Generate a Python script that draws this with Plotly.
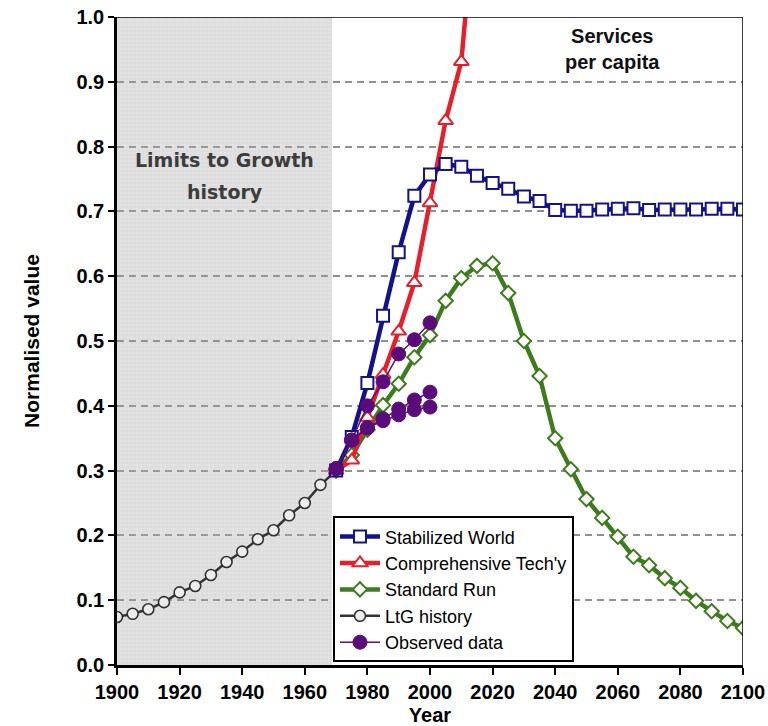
import plotly.graph_objects as go

# ---- data -------------------------------------------------------------
years_hist = [1900, 1905, 1910, 1915, 1920, 1925, 1930, 1935, 1940, 1945,
              1950, 1955, 1960, 1965, 1970]
ltg_history = [0.074, 0.079, 0.086, 0.097, 0.112, 0.122, 0.139, 0.159, 0.175,
               0.194, 0.208, 0.231, 0.250, 0.278, 0.300]

years_run = list(range(1970, 2101, 5))
stabilized_world = [0.300, 0.352, 0.435, 0.539, 0.637, 0.724, 0.757, 0.773,
                    0.769, 0.755, 0.744, 0.735, 0.723, 0.716, 0.702, 0.701,
                    0.701, 0.703, 0.704, 0.705, 0.702, 0.703, 0.703, 0.703,
                    0.704, 0.704, 0.703]
standard_run = [0.300, 0.324, 0.363, 0.401, 0.434, 0.475, 0.509, 0.562,
                0.597, 0.616, 0.620, 0.574, 0.500, 0.446, 0.350, 0.302,
                0.256, 0.227, 0.198, 0.167, 0.154, 0.134, 0.119, 0.099,
                0.083, 0.068, 0.057]

years_tech = [1970, 1975, 1980, 1985, 1990, 1995, 2000, 2005, 2010, 2015]
comprehensive_tech = [0.300, 0.316, 0.382, 0.448, 0.515, 0.590, 0.713,
                      0.840, 0.931, 1.200]

years_obs = [1970, 1975, 1980, 1985, 1990, 1995, 2000]
observed_sets = [
    [0.303, 0.347, 0.400, 0.437, 0.480, 0.502, 0.528],
    [0.303, 0.347, 0.366, 0.380, 0.395, 0.409, 0.421],
    [0.303, 0.347, 0.366, 0.377, 0.386, 0.394, 0.398],
]

x_ticks = list(range(1900, 2101, 20))
history_end = 1968.7

# ---- styling ----------------------------------------------------------
FONT = "Arial, Liberation Sans, sans-serif"
BLUE = "#12128a"
RED = "#e5202a"
GREEN = "#3d7c1c"
PURPLE = "#5a0c7a"
DARK = "#333333"

fig = go.Figure()

# textured band behind the model-history period
fig.add_trace(go.Bar(
    x=[(1900 + history_end) / 2], y=[1.0], base=[0], width=[history_end - 1900],
    marker=dict(color="rgba(0,0,0,0)", line=dict(width=0),
                pattern=dict(shape="+", size=4, solidity=0.25,
                             fgcolor="#c4c4c4", fgopacity=0.5,
                             bgcolor="rgba(0,0,0,0)")),
    showlegend=False, hoverinfo="skip"))

fig.add_trace(go.Scatter(
    x=years_hist, y=ltg_history, mode="lines+markers", name="LtG history",
    legendrank=4,
    line=dict(color=DARK, width=2.5),
    marker=dict(symbol="circle", size=11, color="#ececec",
                line=dict(color=DARK, width=1.6))))

fig.add_trace(go.Scatter(
    x=years_run, y=standard_run, mode="lines+markers", name="Standard Run",
    legendrank=3,
    line=dict(color=GREEN, width=4.5),
    marker=dict(symbol="diamond", size=11, color="white",
                line=dict(color=GREEN, width=2))))

fig.add_trace(go.Scatter(
    x=years_tech, y=comprehensive_tech, mode="lines+markers",
    name="Comprehensive Tech'y", legendrank=2,
    line=dict(color=RED, width=4.5),
    marker=dict(symbol="triangle-up", size=13, color="white",
                line=dict(color=RED, width=2))))

fig.add_trace(go.Scatter(
    x=years_run, y=stabilized_world, mode="lines+markers",
    name="Stabilized World", legendrank=1,
    line=dict(color=BLUE, width=4.5),
    marker=dict(symbol="square", size=12, color="white",
                line=dict(color=BLUE, width=2))))

for i, obs in enumerate(observed_sets):
    fig.add_trace(go.Scatter(
        x=years_obs, y=obs, mode="lines+markers", name="Observed data",
        legendgroup="obs", showlegend=(i == 0), legendrank=5,
        line=dict(color=PURPLE, width=1.5),
        marker=dict(symbol="circle", size=14, color=PURPLE,
                    line=dict(color=PURPLE, width=1))))

# shaded history region (under the gridlines)
fig.add_shape(type="rect", xref="x", yref="y", x0=1900, x1=history_end,
              y0=0, y1=1.0, fillcolor="#e2e2e2", line=dict(width=0),
              layer="below")

# thin top and right frame
fig.add_shape(type="line", xref="x", yref="y", x0=1900, x1=2100, y0=1.0, y1=1.0,
              line=dict(color="black", width=1.5), layer="above")
fig.add_shape(type="line", xref="x", yref="y", x0=2100, x1=2100, y0=0, y1=1.0,
              line=dict(color="black", width=1.5), layer="above")

fig.add_annotation(x=0.792, y=0.95, xref="paper", yref="paper", showarrow=False,
                   text="<b>Services</b><br><b>per capita</b>",
                   font=dict(family=FONT, size=20, color="#111111"),
                   xanchor="center", yanchor="middle", align="center")

# two-line label for the history band
band_font = dict(family="DejaVu Sans, sans-serif", size=19, color="#3c3c3c")
fig.add_annotation(x=(1900 + history_end) / 2, y=0.779, xref="x", yref="y",
                   showarrow=False, text="<b>Limits to Growth</b>",
                   font=band_font, xanchor="center", yanchor="middle")
fig.add_annotation(x=(1900 + history_end) / 2, y=0.730, xref="x", yref="y",
                   showarrow=False, text="<b>history</b>",
                   font=band_font, xanchor="center", yanchor="middle")

fig.update_layout(
    width=768, height=726,
    margin=dict(l=117, r=25, t=17, b=61),
    paper_bgcolor="white", plot_bgcolor="white",
    font=dict(family=FONT, size=20, color="black"),
    showlegend=True,
    legend=dict(x=0.345, y=0.004, xanchor="left", yanchor="bottom",
                bgcolor="white", bordercolor="black", borderwidth=2,
                font=dict(family=FONT, size=18, color="black"),
                itemwidth=40, tracegroupgap=0),
    bargap=0,
)

fig.update_xaxes(
    range=[1900, 2100], tickvals=x_ticks, ticks="outside", ticklen=7,
    tickwidth=2, tickcolor="black", showline=True, linecolor="black",
    linewidth=2.5, showgrid=False, zeroline=False, automargin=False,
    tickfont=dict(family=FONT, size=20, weight="bold"),
    title=dict(text="<b>Year</b>", font=dict(family=FONT, size=20),
               standoff=8))

fig.update_yaxes(
    range=[0, 1.0], dtick=0.1, tick0=0, tickformat=".1f", ticks="outside",
    ticklen=6, tickwidth=2, tickcolor="black", showline=True,
    linecolor="black", linewidth=2.5, zeroline=False, automargin=False,
    showgrid=True, gridcolor="#8f8f8f", gridwidth=1.5, griddash="7px,5px",
    tickfont=dict(family=FONT, size=20, weight="bold"),
    title=dict(text="<b>Normalised value</b>", font=dict(family=FONT, size=21),
               standoff=32))

fig.write_html("out.html")
